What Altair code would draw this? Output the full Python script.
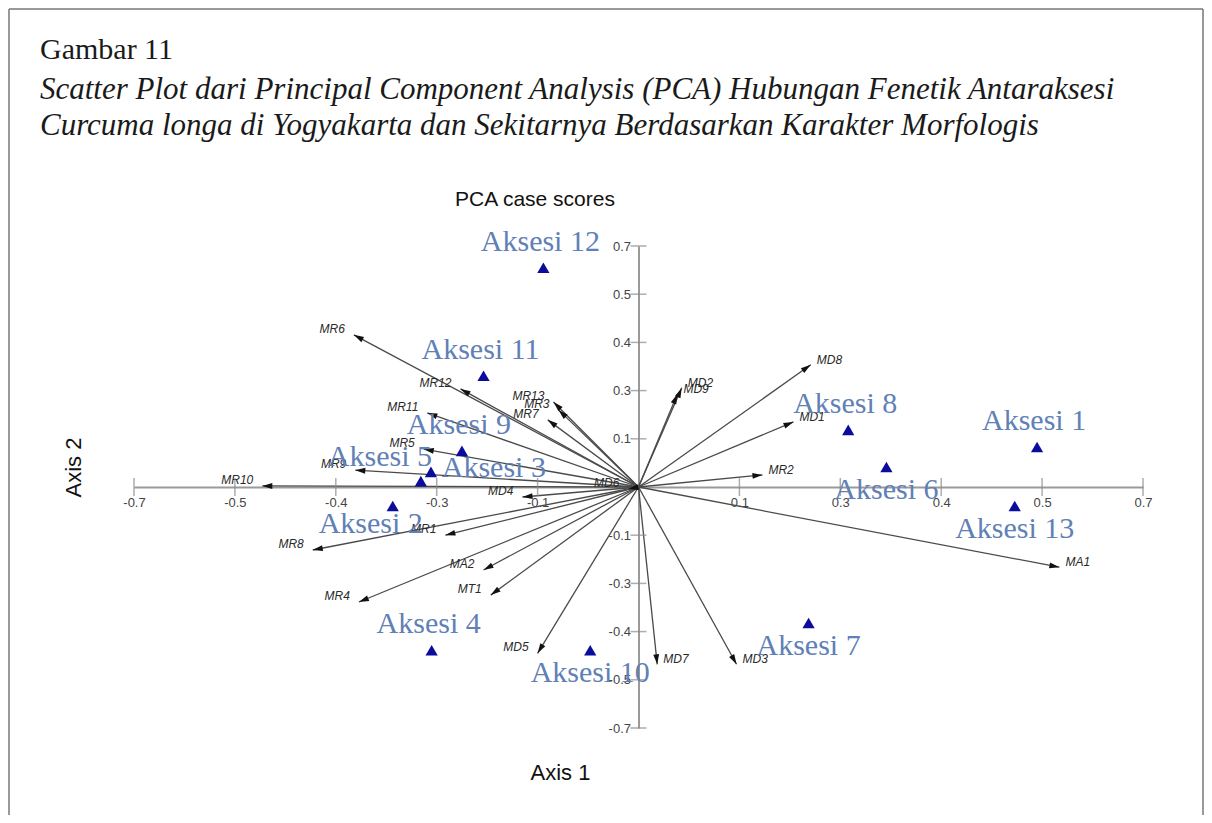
import math
import altair as alt
import pandas as pd

# ---------------- data (chart units) ----------------
acc_names = ["Aksesi 1", "Aksesi 2", "Aksesi 3", "Aksesi 4", "Aksesi 5", "Aksesi 6", "Aksesi 7",
             "Aksesi 8", "Aksesi 9", "Aksesi 10", "Aksesi 11", "Aksesi 12", "Aksesi 13"]
acc_x = [0.553, -0.341, -0.302, -0.287, -0.288, 0.344, 0.236, 0.291, -0.245, -0.067, -0.215, -0.132, 0.522]
acc_y = [0.116, -0.055, 0.017, -0.474, 0.044, 0.058, -0.395, 0.166, 0.105, -0.474, 0.323, 0.637, -0.055]
acc_pos = ["above", "belowleft", "right", "above", "left", "below", "below",
           "above", "above", "below", "above", "above", "below"]

var_names = ["MR10", "MR9", "MR5", "MR11", "MR7", "MR13", "MR3", "MR12", "MR6", "MD4", "MR1", "MR8",
             "MA2", "MR4", "MT1", "MD5", "MD9", "MD2", "MD8", "MD1", "MR2", "MA1", "MD7", "MD3", "MD6"]
var_x = [-0.522, -0.393, -0.298, -0.293, -0.126, -0.118, -0.111, -0.247, -0.395, -0.161, -0.268, -0.452,
         -0.215, -0.388, -0.205, -0.140, 0.054, 0.060, 0.239, 0.215, 0.172, 0.584, 0.026, 0.136, -0.014]
var_y = [0.003, 0.049, 0.110, 0.215, 0.195, 0.247, 0.224, 0.285, 0.442, -0.029, -0.140, -0.183,
         -0.241, -0.334, -0.314, -0.483, 0.270, 0.288, 0.355, 0.189, 0.035, -0.233, -0.515, -0.515, -0.006]

tick_vals = [-0.70, -0.56, -0.42, -0.28, -0.14, 0.14, 0.28, 0.42, 0.56, 0.70]
tick_labels = ["-0.7", "-0.5", "-0.4", "-0.3", "-0.1", "", "0.1", "0.3", "0.4", "0.5", "0.7"]

caption = "Gambar 11"
caption_lines = ["Scatter Plot dari Principal Component Analysis (PCA) Hubungan Fenetik Antaraksesi",
                 "Curcuma longa di Yogyakarta dan Sekitarnya Berdasarkan Karakter Morfologis"]
plot_title = "PCA case scores"

# ---------------- layout ----------------
W, H = 1009, 482
PX_X = W / 1.4
PX_Y = H / 1.4

acc = pd.DataFrame({"name": acc_names, "x": acc_x, "y": acc_y, "pos": acc_pos})
var = pd.DataFrame({"name": var_names, "x": var_x, "y": var_y})
var["x0"] = 0.0
var["y0"] = 0.0
var["ang"] = [(math.degrees(math.atan2(a * PX_X, b * PX_Y)) + 360) % 360 for a, b in zip(var_x, var_y)]
var["side"] = ["L" if a < 0 else "R" for a in var_x]

label_expr = "[" + ",".join("'%s'" % t for t in tick_labels) + "][round(datum.value/0.14)+5]"

SANS = "Liberation Sans"
SERIF = "Liberation Serif"

xaxis = alt.Axis(values=tick_vals, labelExpr=label_expr, ticks=False, grid=False,
                 domainColor="#9a9a9a", domainWidth=2, offset=-H / 2, labelPadding=9,
                 labelFont=SANS, labelFontSize=13, labelColor="#444", labelOverlap=False,
                 labelFlush=False, title="Axis 1", titleFont=SANS, titleFontSize=22,
                 titleFontWeight="normal", titleColor="#111", titleX=426, titleY=285,
                 titleBaseline="middle", titleAlign="center")
yaxis = alt.Axis(values=tick_vals, labelExpr=label_expr, ticks=False, grid=False,
                 domainColor="#9a9a9a", domainWidth=2, offset=-W / 2, labelPadding=8,
                 labelFont=SANS, labelFontSize=13, labelColor="#444", labelOverlap=False,
                 labelFlush=False, title="Axis 2", titleFont=SANS, titleFontSize=22,
                 titleFontWeight="normal", titleColor="#111", titleX=-565, titleY=221,
                 titleAngle=270, titleBaseline="middle", titleAlign="center")

def X(field="x"):
    return alt.X(f"{field}:Q", scale=alt.Scale(domain=[-0.7, 0.7], nice=False, zero=False), axis=xaxis)

def Y(field="y"):
    return alt.Y(f"{field}:Q", scale=alt.Scale(domain=[-0.7, 0.7], nice=False, zero=False), axis=yaxis)

# crossing tick marks on both axes
xt = pd.DataFrame({"x": tick_vals, "y": [0.0] * len(tick_vals)})
yt = pd.DataFrame({"x": [0.0] * len(tick_vals), "y": tick_vals})
xticks = alt.Chart(xt).mark_tick(orient="vertical", size=18, thickness=1.5, color="#8a8a8a").encode(x=X(), y=Y())
yticks = alt.Chart(yt).mark_tick(orient="horizontal", size=16, thickness=1.5, color="#8a8a8a").encode(x=X(), y=Y())

lines = alt.Chart(var).mark_rule(color="#4a4a4a", strokeWidth=1.3).encode(
    x=X("x0"), y=Y("y0"), x2="x:Q", y2="y:Q")

heads = alt.Chart(var).mark_point(shape="M0,0L0.7,2.4L-0.7,2.4Z", size=70, filled=True,
                                  color="#111", opacity=1).encode(
    x=X(), y=Y(), angle=alt.Angle("ang:Q", scale=None))

vlab_l = alt.Chart(var).transform_filter("datum.side == 'L'").mark_text(
    align="right", baseline="middle", dx=-9, dy=-6, font=SANS, fontSize=12, fontStyle="italic",
    color="#2a2a2a").encode(x=X(), y=Y(), text="name:N")
vlab_r = alt.Chart(var).transform_filter("datum.side == 'R'").mark_text(
    align="left", baseline="middle", dx=6, dy=-5, font=SANS, fontSize=12, fontStyle="italic",
    color="#2a2a2a").encode(x=X(), y=Y(), text="name:N")

tri = alt.Chart(acc).mark_point(shape="triangle-up", size=150, filled=True, color="#0c0c9c",
                                opacity=1).encode(x=X(), y=Y())

offsets = {"above": (-3, -26), "below": (0, 23), "belowleft": (-22, 18), "left": (-51, -15), "right": (73, -13)}
acc_layers = []
for p, (ddx, ddy) in offsets.items():
    acc_layers.append(
        alt.Chart(acc).transform_filter(f"datum.pos == '{p}'").mark_text(
            align="center", baseline="middle", dx=ddx, dy=ddy, font=SERIF, fontSize=30,
            color="#6080b6").encode(x=X(), y=Y(), text="name:N"))

one = pd.DataFrame({"k": [0]})
pca_title = alt.Chart(one).mark_text(font=SANS, fontSize=21, color="#111", align="center",
                                     baseline="middle").encode(
    x=alt.value(401), y=alt.value(-46), text=alt.value(plot_title))
cap0 = alt.Chart(one).mark_text(font=SERIF, fontSize=30, color="#1a1a1a", align="left",
                                baseline="middle").encode(
    x=alt.value(-94), y=alt.value(-196), text=alt.value(caption))
cap1 = alt.Chart(one).mark_text(font=SERIF, fontSize=31, fontStyle="italic", color="#1a1a1a",
                                align="left", baseline="middle").encode(
    x=alt.value(-94), y=alt.value(-156), text=alt.value(caption_lines[0]))
cap2 = alt.Chart(one).mark_text(font=SERIF, fontSize=31, fontStyle="italic", color="#1a1a1a",
                                align="left", baseline="middle").encode(
    x=alt.value(-94), y=alt.value(-120), text=alt.value(caption_lines[1]))
frame_l = alt.Chart(one).mark_rule(color="#777", strokeWidth=1.5).encode(
    x=alt.value(-125), y=alt.value(-237), y2=alt.value(570))
frame_t = alt.Chart(one).mark_rule(color="#777", strokeWidth=1.5).encode(
    x=alt.value(-125), x2=alt.value(1069), y=alt.value(-237))
frame_r = alt.Chart(one).mark_rule(color="#777", strokeWidth=1.5).encode(
    x=alt.value(1069), y=alt.value(-237), y2=alt.value(570))

chart = alt.layer(
    lines, heads, vlab_l, vlab_r, xticks, yticks, tri, *acc_layers,
    pca_title, cap0, cap1, cap2, frame_l, frame_t, frame_r
).properties(
    width=W, height=H,
    padding={"left": 126, "top": 238, "right": 61, "bottom": 87},
    autosize=alt.AutoSizeParams(type="none"),
).configure_view(stroke=None)

chart.save("out.html", embed_options={"renderer": "svg", "actions": False})
